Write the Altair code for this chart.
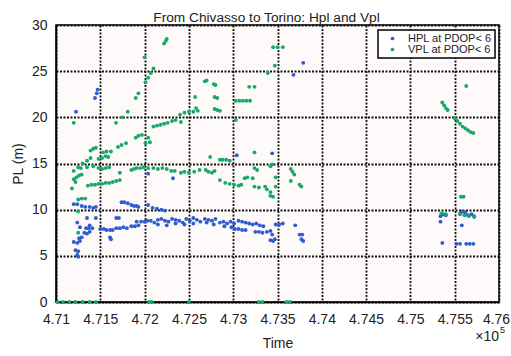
import altair as alt
import pandas as pd

# ---- data (Time, PL in metres) ----
x_ticks = [471000, 471500, 472000, 472500, 473000, 473500, 474000, 474500, 475000, 475500, 476000]
y_ticks = [0, 5, 10, 15, 20, 25, 30]
series_names = ["HPL at PDOP< 6", "VPL at PDOP< 6"]
series_colors = ["#2f5ccf", "#17a86b"]

hpl_points = [
    (471200, 10.6), (471240, 10.6), (471290, 10.4), (471330, 10.3), (471380, 10.3), (471420, 10.2), (471450, 10.3),
    (471350, 9.1), (471450, 9.1),
    (471240, 8.6), (471270, 8.1), (471340, 8.0), (471370, 8.0), (471380, 8.3), (471410, 8.0),
    (471320, 7.5), (471350, 7.4), (471380, 7.6),
    (471260, 6.9), (471290, 7.0),
    (471200, 6.5), (471240, 6.4), (471270, 6.6),
    (471220, 5.6), (471250, 5.5), (471240, 5.1), (471250, 4.9),
    (471226, 20.6), (471440, 22.1), (471460, 22.6), (471470, 23.0),
    (471500, 7.9), (471540, 7.9), (471570, 7.8), (471610, 7.8), (471640, 7.8), (471610, 7.0), (471620, 6.8),
    (471680, 8.0), (471720, 8.0), (471760, 8.1), (471800, 8.0),
    (471850, 8.2), (471890, 8.2), (471930, 8.3),
    (471910, 8.7), (471960, 8.7), (472000, 8.7), (472030, 8.8),
    (471680, 9.1), (471710, 9.1),
    (471740, 10.8), (471770, 10.8), (471810, 10.7),
    (471850, 10.5), (471880, 10.4), (471910, 10.4), (471930, 10.3),
    (472040, 10.5),
    (472040, 13.9), (472320, 13.4),
    (472090, 10.2), (472140, 10.1), (472190, 10.0), (472230, 9.9),
    (472070, 8.8), (472110, 8.6), (472150, 8.9), (472190, 9.0), (472230, 8.8), (472270, 8.7), (472310, 9.0),
    (472350, 8.9), (472390, 8.8), (472430, 8.6), (472470, 9.0), (472510, 8.8), (472550, 9.1), (472590, 8.9),
    (472630, 8.7),
    (472150, 8.4), (472250, 8.3), (472350, 8.5), (472450, 8.4), (472550, 8.5),
    (472680, 9.0), (472720, 8.9), (472760, 8.8), (472800, 9.0), (472850, 8.6), (472890, 8.7), (472930, 8.5),
    (472970, 8.7), (473010, 8.5),
    (472700, 8.6), (472780, 8.4), (472900, 8.2), (472980, 8.1), (473020, 7.9), (473060, 7.9), (473100, 7.8),
    (473140, 7.8),
    (473060, 8.8), (473100, 8.7), (473140, 8.6), (473180, 8.5), (473220, 8.4), (473260, 8.5), (473300, 8.3),
    (473340, 8.2),
    (473250, 7.6), (473290, 7.6), (473330, 7.5), (473380, 7.6), (473420, 7.7), (473440, 7.3),
    (473420, 6.7), (473450, 6.6), (473470, 6.8),
    (473480, 8.4), (473520, 8.4), (473560, 8.5), (473700, 8.3), (473750, 7.3), (473780, 7.3), (473770, 6.8),
    (473790, 6.6),
    (473040, 15.9), (473440, 16.1),
    (473680, 24.6), (473790, 25.9),
    (475340, 9.3), (475370, 9.5), (475400, 9.4), (475340, 8.7), (475560, 9.6), (475590, 9.8), (475620, 9.7),
    (475650, 9.4), (475690, 9.5), (475720, 9.3), (475580, 8.3), (475360, 6.4), (475520, 6.3), (475560, 6.3),
    (475630, 6.3), (475670, 6.3), (475710, 6.3),
]

vpl_points = [
    (471677, 19.4), (471750, 20.0), (471810, 20.6), (471900, 22.1), (471930, 22.6), (472010, 23.8),
    (472040, 24.3), (472070, 24.8), (472100, 25.3),
    (472000, 26.5), (472220, 28.0), (472240, 28.3), (472250, 28.5),
    (471700, 16.8), (471740, 17.0), (471790, 17.2), (471900, 17.8), (471930, 18.0), (471970, 18.1),
    (472010, 17.2), (472040, 17.8), (472060, 17.3),
    (472100, 19.0), (472140, 19.1), (472180, 19.2), (472220, 19.3), (472260, 19.4), (472310, 19.6),
    (472350, 19.7), (472400, 20.3), (472450, 20.5), (472500, 20.6), (472550, 20.6), (472600, 20.7),
    (472410, 19.5), (471200, 19.4),
    (471200, 14.2), (471250, 14.6), (471300, 15.0), (471350, 15.3), (471390, 15.6), (471390, 16.4),
    (471420, 16.6), (471450, 16.7), (471480, 15.5), (471520, 15.6), (471560, 15.8), (471590, 15.7),
    (471530, 16.2), (471570, 16.3), (471620, 16.3),
    (471280, 14.5), (471350, 14.6), (471420, 14.7), (471480, 14.5), (471520, 14.4), (471560, 14.5),
    (471600, 14.6),
    (471850, 14.3), (471880, 14.4), (471910, 14.5), (471950, 14.5), (471990, 14.6), (472040, 14.5),
    (472100, 14.5), (472150, 14.4), (472200, 14.5), (472250, 14.4), (472300, 14.2), (472340, 14.2),
    (472410, 14.0), (472450, 14.1), (472500, 14.0), (472560, 14.1), (472620, 14.3), (472690, 14.3),
    (472720, 14.1), (472760, 14.0), (472790, 14.2),
    (472850, 15.4), (472880, 15.4), (472920, 15.4), (472960, 15.3), (472740, 15.7), (473240, 16.2),
    (471360, 12.6), (471400, 12.7), (471440, 12.7), (471480, 12.8), (471520, 12.8), (471560, 12.9),
    (471600, 12.9), (471640, 13.0), (471680, 13.1), (471720, 13.2), (471720, 14.0),
    (471200, 13.3), (471230, 13.5), (471260, 13.7), (471290, 13.8), (471180, 12.3), (471220, 13.0),
    (471250, 11.1), (471290, 11.2), (471330, 11.2), (471250, 9.8), (471250, 7.5),
    (472850, 13.2), (472910, 12.9), (472960, 12.8), (473010, 12.7), (473060, 12.6), (473090, 12.7),
    (473130, 13.4), (473160, 13.5), (473220, 13.4), (473240, 12.5), (473290, 12.4), (473360, 12.5),
    (473380, 12.2), (473420, 11.9), (473420, 11.5), (473450, 11.4), (473480, 12.5), (473480, 13.5),
    (473240, 14.5), (473270, 14.3), (473420, 14.7), (473440, 14.9), (473650, 14.4), (473670, 14.1),
    (473690, 13.8), (473650, 13.1), (473750, 12.7), (473770, 12.5),
    (472680, 23.9), (472700, 24.0), (472780, 23.6), (472800, 23.5), (472790, 22.2), (472820, 22.1),
    (472790, 20.9), (472820, 20.8), (472850, 20.7), (472570, 22.2), (472580, 21.0),
    (473030, 21.8), (473070, 21.8), (473110, 21.8), (473150, 21.8), (473190, 21.8),
    (473180, 23.3), (473240, 23.3), (473030, 19.7),
    (473450, 27.6), (473500, 27.6), (473560, 27.6), (473470, 25.6), (473390, 24.8),
    (475340, 27.1), (475630, 23.4),
    (475360, 21.6), (475380, 21.3), (475400, 21.0), (475420, 20.8),
    (475500, 19.9), (475530, 19.6), (475560, 19.3), (475590, 19.0), (475620, 18.8), (475650, 18.6),
    (475680, 18.4), (475710, 18.3),
    (475570, 11.4), (475600, 11.4),
    (475350, 9.6), (475400, 9.5), (475560, 9.5), (475610, 9.4), (475660, 9.3), (475720, 9.2),
    (471020, 0), (471080, 0), (471150, 0), (471220, 0), (471300, 0), (471380, 0), (471450, 0),
    (472050, 0), (472080, 0), (472500, 0), (473290, 0), (473330, 0), (473600, 0), (473640, 0),
]

rows = [{"Time": t, "PL": v, "Series": series_names[0]} for t, v in hpl_points]
rows += [{"Time": t, "PL": v, "Series": series_names[1]} for t, v in vpl_points]
df = pd.DataFrame(rows)

FONT = "Liberation Sans"

points = alt.Chart(df).mark_circle(size=15, opacity=1).encode(
    x=alt.X(
        "Time:Q",
        scale=alt.Scale(domain=[471000, 476000], nice=False, zero=False),
        axis=alt.Axis(values=x_ticks, labelExpr="format(datum.value / 100000, '.4~f')",
                      labelOverlap=False, labelFlush=False,
                      labelOffset={"condition": {"test": "datum.value >= 476000", "value": -3}, "value": 0},
                      title="Time", labelPadding=10, titlePadding=10),
    ),
    y=alt.Y(
        "PL:Q",
        scale=alt.Scale(domain=[0, 30], nice=False),
        axis=alt.Axis(values=y_ticks, title="PL (m)", labelPadding=9, titlePadding=6),
    ),
    color=alt.Color(
        "Series:N",
        scale=alt.Scale(domain=series_names, range=series_colors),
        legend=alt.Legend(
            title=None, orient="none", legendX=322, legendY=5,
            fillColor="white", strokeColor="black", padding=3,
            symbolType="circle", symbolSize=14, symbolOffset=6,
            labelFont=FONT, labelFontSize=11, labelColor="#222", labelOffset=10,
            rowPadding=-1,
        ),
    ),
)

exp_base = alt.Chart(pd.DataFrame({"t": ["×10"]})).mark_text(
    font=FONT, fontSize=14, color="#222", align="right", baseline="middle"
).encode(text="t:N", x=alt.value(443), y=alt.value(312))
exp_sup = alt.Chart(pd.DataFrame({"t": ["5"]})).mark_text(
    font=FONT, fontSize=9, color="#222", align="left", baseline="middle"
).encode(text="t:N", x=alt.value(444), y=alt.value(305))

chart = alt.layer(points, exp_base, exp_sup).properties(
    width=443,
    height=277,
    autosize=alt.AutoSizeParams(type="none"),
    padding={"left": 56, "top": 25, "right": 12, "bottom": 54},
    title=alt.TitleParams("From Chivasso to Torino: Hpl and Vpl", font=FONT, fontSize=13.7,
                          fontWeight="normal", color="#222", offset=6, dy=13, dx=-11),
).configure_view(
    stroke="black", strokeWidth=1.5, fill="#fffafa"
).configure_axis(
    domainColor="black", domainWidth=1.5,
    grid=True, gridColor="#111", gridDash=[2, 1.5], gridWidth=1.8, gridOpacity=1,
    ticks=False,
    labelFont=FONT, labelFontSize=14, labelColor="#222",
    titleFont=FONT, titleFontSize=14, titleFontWeight="normal", titleColor="#222",
).configure_legend(strokeWidth=1.5)

chart.save("out.html", embed_options={"renderer": "svg", "actions": False})
